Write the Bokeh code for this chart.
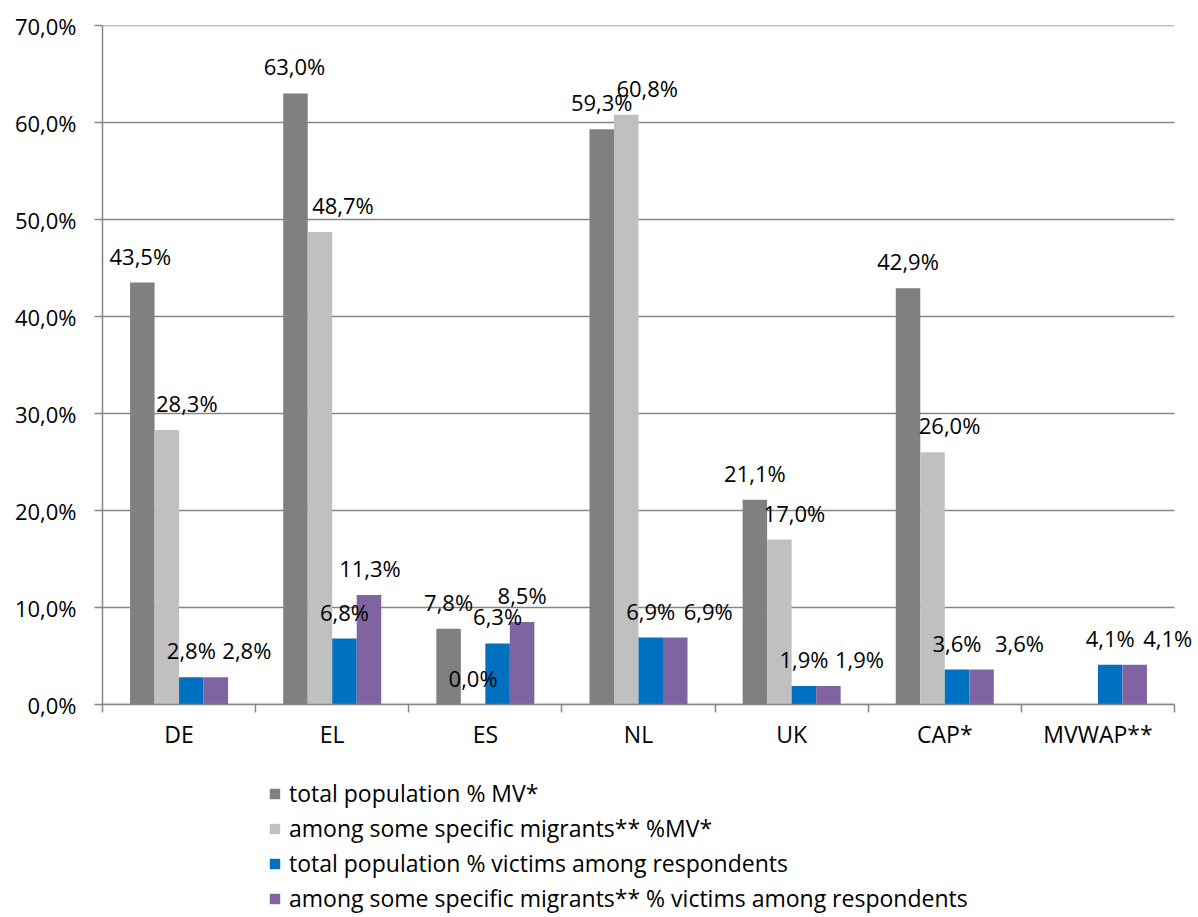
import numpy as np
from bokeh.plotting import figure
from bokeh.layouts import column
from bokeh.models import (ColumnDataSource, FixedTicker, LabelSet, Legend,
                          LegendItem, Range1d)
from bokeh.core.properties import value
from bokeh.embed import file_html
from bokeh.resources import INLINE

# ---------------- data ----------------
categories = ["DE", "EL", "ES", "NL", "UK", "CAP*", "MVWAP**"]
total_mv = [43.5, 63.0, 7.8, 59.3, 21.1, 42.9, None]
migrants_mv = [28.3, 48.7, 0.0, 60.8, 17.0, 26.0, None]
total_victims = [2.8, 6.8, 6.3, 6.9, 1.9, 3.6, 4.1]
migrants_victims = [2.8, 11.3, 8.5, 6.9, 1.9, 3.6, 4.1]
series_names = [
    "total population % MV*",
    "among some specific migrants** %MV*",
    "total population % victims among respondents",
    "among some specific migrants** % victims among respondents",
]
y_ticks = [0, 10, 20, 30, 40, 50, 60, 70]

# ---------------- style ----------------
series_values = [total_mv, migrants_mv, total_victims, migrants_victims]
colors = ["#808080", "#C0C0C0", "#0070C0", "#8064A2"]
dodge = [-0.24, -0.08, 0.08, 0.24]
bar_w = 0.16
# horizontal nudges (px) of the value labels, as in the original
label_nudge = [
    [-2, -1, 0, 0, 0, 0, 0],
    [20, 23, 0, 21, 15, 17, 0],
    [0, 0, 0, 0, 0, 0, 0],
    [31, 1, 0, 33, 31, 38, 33],
]
FONT = "Open Sans"
FS = "22px"
FS_TEXT = "23px"
GRID = "#868686"
n_cat = len(categories)
x_end = n_cat * 1096 / 1072  # a little room on the right for the last label

W = 1198
H_TOP = 770
H_LEG = 147

p = figure(width=W, height=H_TOP, output_backend="svg", toolbar_location=None,
           x_range=Range1d(0, x_end), y_range=Range1d(0, 70),
           min_border_left=102, min_border_right=0, min_border_top=25,
           min_border_bottom=H_TOP - 704)
p.outline_line_color = None
p.background_fill_color = "white"
p.border_fill_color = "white"

# horizontal gridlines across the category span
p.segment(x0=[0] * len(y_ticks), x1=[n_cat] * len(y_ticks), y0=y_ticks, y1=y_ticks,
          line_color=GRID, line_width=1.5)

centers = np.arange(n_cat) + 0.5
for k, vals in enumerate(series_values):
    xs, tops, texts, dxs = [], [], [], []
    for i, v in enumerate(vals):
        if v is None:
            continue
        xs.append(centers[i] + dodge[k])
        tops.append(v)
        texts.append(f"{v:.1f}%".replace(".", ","))
        dxs.append(label_nudge[k][i])
    src = ColumnDataSource(dict(x=xs, top=tops, text=texts, dx=dxs))
    p.vbar(x="x", top="top", width=bar_w, bottom=0, source=src,
           fill_color=colors[k], line_color=None)
    ls = LabelSet(x="x", y="top", text="text", source=src, x_offset="dx",
                  y_offset=18, text_align="center", text_baseline="alphabetic",
                  text_font=value(FONT), text_font_size=value(FS), text_color="black")
    p.add_layout(ls)

# y axis
p.yaxis.ticker = FixedTicker(ticks=y_ticks)
p.yaxis.major_label_overrides = {t: f"{t:.1f}%".replace(".", ",") for t in y_ticks}
p.yaxis.axis_line_color = GRID
p.yaxis.axis_line_width = 1.5
p.yaxis.major_tick_line_color = GRID
p.yaxis.major_tick_line_width = 1.5
p.yaxis.major_tick_out = 8
p.yaxis.major_tick_in = 0
p.yaxis.minor_tick_line_color = None
p.yaxis.major_label_text_font = FONT
p.yaxis.major_label_text_font_size = FS
p.yaxis.major_label_text_color = "black"
p.yaxis.major_label_standoff = 18

# x axis
p.xaxis.bounds = (0, n_cat)
p.xaxis.ticker = FixedTicker(ticks=list(centers), minor_ticks=list(range(n_cat + 1)))
p.xaxis.major_label_overrides = {float(c): name for c, name in zip(centers, categories)}
p.xaxis.axis_line_color = GRID
p.xaxis.axis_line_width = 1.5
p.xaxis.major_tick_line_color = None
p.xaxis.major_tick_out = 0
p.xaxis.major_tick_in = 0
p.xaxis.minor_tick_line_color = GRID
p.xaxis.minor_tick_line_width = 1.5
p.xaxis.minor_tick_out = 8
p.xaxis.minor_tick_in = 0
p.xaxis.major_label_text_font = FONT
p.xaxis.major_label_text_font_size = FS_TEXT
p.xaxis.major_label_text_color = "black"
p.xaxis.major_label_standoff = 5

p.xgrid.visible = False
p.ygrid.visible = False

# ---------------- legend panel below the chart ----------------
lf = figure(width=W, height=H_LEG, output_backend="svg", toolbar_location=None,
            x_range=Range1d(0, 1), y_range=Range1d(0, 1),
            min_border=0, x_axis_location=None, y_axis_location=None)
lf.outline_line_color = None
lf.xgrid.visible = False
lf.ygrid.visible = False
leg_items = []
for name, c in zip(series_names, colors):
    # swatch-only renderer: one undefined (NaN) bar, so nothing is drawn in the panel
    r = lf.vbar(x=[0.5], top=[float("nan")], width=0.1, fill_color=c, line_color=None)
    leg_items.append(LegendItem(label=name, renderers=[r]))
legend = Legend(
    items=leg_items, location=(166, 3), orientation="vertical",
    glyph_width=13, glyph_height=13, label_standoff=8, spacing=3,
    padding=0, margin=0, border_line_alpha=0, background_fill_alpha=0,
    label_text_font=FONT, label_text_font_size=FS_TEXT, label_text_color="black",
)
lf.add_layout(legend)

layout = column(p, lf, spacing=0)
open("out.html", "w").write(file_html(layout, INLINE))
